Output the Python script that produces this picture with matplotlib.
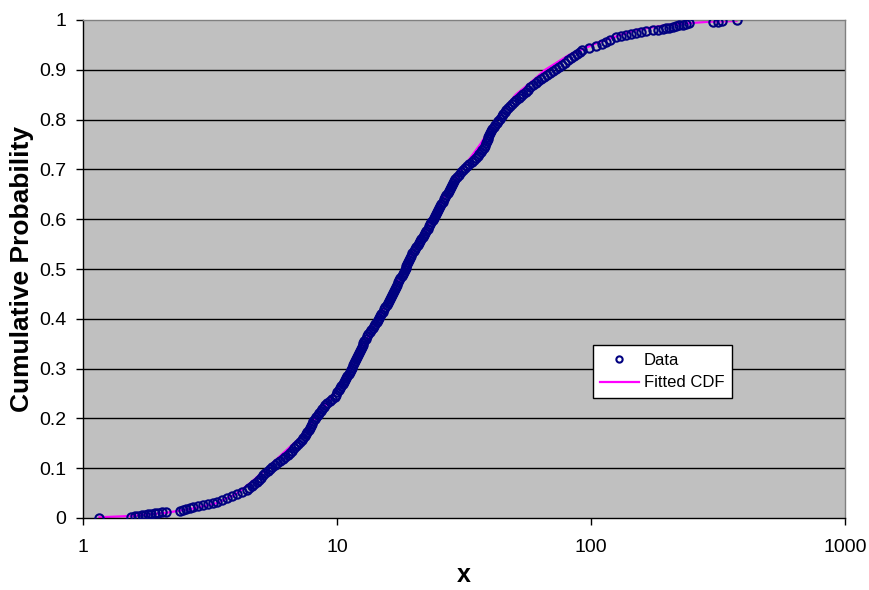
import matplotlib
matplotlib.use("Agg")
import matplotlib.pyplot as plt

# Data points (sorted sample value x, cumulative probability p)
data_x = [
    # lower tail
    1.16, 1.55, 1.60, 1.65, 1.70, 1.75, 1.80, 1.86, 1.92, 1.98, 2.05, 2.13,
    2.40, 2.47, 2.55, 2.63, 2.71, 2.83, 2.97, 3.10, 3.25,
    # body
    3.38, 3.53, 3.70,
    3.86, 4.04, 4.22, 4.41, 4.51, 4.61, 4.73, 4.84, 4.94, 5.04,
    5.13, 5.23, 5.33, 5.43, 5.56, 5.69, 5.83, 5.97, 6.11, 6.26,
    6.41, 6.55, 6.67, 6.78, 6.90, 7.02, 7.14, 7.26, 7.38, 7.49,
    7.57, 7.65, 7.74, 7.82, 7.91, 7.99, 8.07, 8.17, 8.28, 8.39,
    8.51, 8.63, 8.75, 8.87, 8.99, 9.14, 9.35, 9.57, 9.79, 9.91,
    10.03, 10.16, 10.28, 10.40, 10.52, 10.64, 10.76, 10.87, 10.99, 11.10,
    11.22, 11.35, 11.45, 11.56, 11.64, 11.75, 11.86, 11.97, 12.08, 12.19,
    12.27, 12.39, 12.50, 12.62, 12.71, 12.82, 12.97, 13.15, 13.30, 13.46,
    13.65, 13.80, 13.96, 14.13, 14.32, 14.49, 14.66, 14.82, 14.96, 15.14,
    15.31, 15.49, 15.67, 15.81, 16.00, 16.18, 16.33, 16.48, 16.63, 16.79,
    16.94, 17.10, 17.26, 17.42, 17.58, 17.74, 17.95, 18.11, 18.28, 18.45,
    18.62, 18.75, 18.92, 19.10, 19.23, 19.41, 19.59, 19.82, 20.04, 20.28,
    20.51, 20.75, 20.99, 21.23, 21.48, 21.73, 22.03, 22.23, 22.49, 22.75,
    23.01, 23.28, 23.55, 23.82, 24.04, 24.32, 24.55, 24.77, 25.00, 25.23,
    25.47, 25.76, 26.06, 26.36, 26.67, 26.92, 27.23, 27.54, 27.80, 28.12,
    28.38, 28.64, 28.97, 29.24, 29.58, 30.13, 30.69, 31.26, 31.84, 32.51,
    33.19, 33.96, 34.75, 35.40, 35.89, 36.31, 36.81, 37.24, 37.76, 38.19,
    38.73, 38.90, 39.17, 39.36, 39.63, 39.90, 40.36, 40.93, 41.40, 41.88,
    42.46, 43.15, 43.75, 44.46, 45.08, 45.81, 46.45, 47.21, 47.97, 48.98,
    49.89, 50.82, 52.00, 53.09, 54.20, 55.34, 56.49, 57.68, 59.02, 60.53,
    62.09, 63.68, 65.46, 67.14, 68.87, 70.79, 72.78, 74.82, 76.91, 79.07,
    81.28, 83.37, 85.51, 87.90, 90.16, 92.47, 98.2, 104.5, 110.2, 114.6,
    119.1,
    # upper tail
    125.6, 131.4, 137.4, 143.8, 150.5, 157.4, 164.7, 174.8, 183.0, 191.4,
    197.4, 203.4, 209.6, 216.1, 222.7, 229.4, 236.6, 243.8,
    301.1, 315.0, 327.8, 374.1,
]
data_p = [
    # lower tail
    0.001, 0.003, 0.004, 0.005, 0.006, 0.007, 0.008, 0.009, 0.010, 0.011, 0.012, 0.013,
    0.014, 0.016, 0.018, 0.020, 0.022, 0.024, 0.026, 0.028, 0.030,
    # body
    0.0313, 0.0354, 0.0396,
    0.0438, 0.0479, 0.0521, 0.0563, 0.0604, 0.0646, 0.0688, 0.0729, 0.0771, 0.0813,
    0.0854, 0.0896, 0.0938, 0.0979, 0.1021, 0.1063, 0.1104, 0.1146, 0.1188, 0.1229,
    0.1271, 0.1313, 0.1354, 0.1396, 0.1438, 0.1479, 0.1521, 0.1563, 0.1604, 0.1646,
    0.1688, 0.1729, 0.1771, 0.1813, 0.1854, 0.1896, 0.1938, 0.1979, 0.2021, 0.2063,
    0.2104, 0.2146, 0.2188, 0.2229, 0.2271, 0.2313, 0.2354, 0.2396, 0.2438, 0.2479,
    0.2521, 0.2563, 0.2604, 0.2646, 0.2688, 0.2729, 0.2771, 0.2813, 0.2854, 0.2896,
    0.2938, 0.2979, 0.3021, 0.3063, 0.3104, 0.3146, 0.3188, 0.3229, 0.3271, 0.3313,
    0.3354, 0.3396, 0.3438, 0.3479, 0.3521, 0.3563, 0.3604, 0.3646, 0.3688, 0.3729,
    0.3771, 0.3813, 0.3854, 0.3896, 0.3938, 0.3979, 0.4021, 0.4063, 0.4104, 0.4146,
    0.4188, 0.4229, 0.4271, 0.4313, 0.4354, 0.4396, 0.4438, 0.4479, 0.4521, 0.4563,
    0.4604, 0.4646, 0.4688, 0.4729, 0.4771, 0.4813, 0.4854, 0.4896, 0.4938, 0.4979,
    0.5021, 0.5063, 0.5104, 0.5146, 0.5188, 0.5229, 0.5271, 0.5313, 0.5354, 0.5396,
    0.5438, 0.5479, 0.5521, 0.5563, 0.5604, 0.5646, 0.5688, 0.5729, 0.5771, 0.5813,
    0.5854, 0.5896, 0.5938, 0.5979, 0.6021, 0.6063, 0.6104, 0.6146, 0.6188, 0.6229,
    0.6271, 0.6313, 0.6354, 0.6396, 0.6438, 0.6479, 0.6521, 0.6563, 0.6604, 0.6646,
    0.6688, 0.6729, 0.6771, 0.6813, 0.6854, 0.6896, 0.6938, 0.6979, 0.7021, 0.7063,
    0.7104, 0.7146, 0.7188, 0.7229, 0.7271, 0.7313, 0.7354, 0.7396, 0.7438, 0.7479,
    0.7521, 0.7563, 0.7604, 0.7646, 0.7688, 0.7729, 0.7771, 0.7813, 0.7854, 0.7896,
    0.7938, 0.7979, 0.8021, 0.8063, 0.8104, 0.8146, 0.8188, 0.8229, 0.8271, 0.8313,
    0.8354, 0.8396, 0.8438, 0.8479, 0.8521, 0.8563, 0.8604, 0.8646, 0.8688, 0.8729,
    0.8771, 0.8813, 0.8854, 0.8896, 0.8938, 0.8979, 0.9021, 0.9063, 0.9104, 0.9146,
    0.9188, 0.9229, 0.9271, 0.9313, 0.9354, 0.9396, 0.9438, 0.9479, 0.9521, 0.9563,
    0.9604,
    # upper tail
    0.966, 0.968, 0.970, 0.972, 0.974, 0.976, 0.977, 0.979, 0.980, 0.982,
    0.983, 0.984, 0.986, 0.987, 0.989, 0.990, 0.992, 0.993,
    0.995, 0.996, 0.997, 0.999,
]

# Fitted CDF curve
fit_x = [1.16, 1.54, 2.13, 2.7, 3.34, 4.0, 4.6, 5.3, 6.6, 7.13, 8.2, 9.8,
         11.3, 12.8, 14.5, 16.4, 18.4, 20.8, 23.6, 26.8, 31.0, 36.6, 42.2,
         50.5, 58, 66, 82, 108, 150, 200, 259, 292, 374]
fit_p = [0.0015, 0.004, 0.0106, 0.019, 0.0295, 0.048, 0.072, 0.1, 0.145, 0.16,
         0.2, 0.25, 0.3, 0.35, 0.4, 0.45, 0.5, 0.55, 0.6, 0.65, 0.7, 0.75,
         0.8, 0.85, 0.875, 0.9, 0.93, 0.956, 0.98, 0.99, 0.9946, 0.9966, 0.998]

y_ticks = [0, 0.1, 0.2, 0.3, 0.4, 0.5, 0.6, 0.7, 0.8, 0.9, 1]
y_tick_labels = ["0", "0.1", "0.2", "0.3", "0.4", "0.5", "0.6", "0.7", "0.8", "0.9", "1"]
x_ticks = [1, 10, 100, 1000]
x_tick_labels = ["1", "10", "100", "1000"]

plt.rcParams['font.family'] = ['Liberation Sans', 'DejaVu Sans']

fig = plt.figure(figsize=(8.69, 5.90), dpi=100)
ax = fig.add_axes([83 / 869, 1 - 518 / 590, 762 / 869, 498 / 590])
ax.set_facecolor('#C0C0C0')

ax.set_xscale('log')
ax.set_xlim(1, 1000)
ax.set_ylim(0, 1)

for yv in y_ticks[1:-1]:
    ax.axhline(yv, color='black', lw=1.0, zorder=1)

ax.plot(data_x, data_p, linestyle='none', marker='o', markersize=6,
        markerfacecolor='none', markeredgecolor='#000080',
        markeredgewidth=1.5, label='Data', zorder=3)
ax.plot(fit_x, fit_p, color='#FF00FF', lw=1.6, label='Fitted CDF', zorder=2)

ax.set_yticks(y_ticks)
ax.set_yticklabels(y_tick_labels)
ax.set_xticks(x_ticks)
ax.set_xticklabels(x_tick_labels)
ax.xaxis.set_minor_locator(matplotlib.ticker.NullLocator())
ax.tick_params(axis='both', which='major', labelsize=14, length=5,
               width=1, direction='out', color='black')
ax.tick_params(axis='x', pad=10)
ax.tick_params(axis='y', pad=7)

for s in ['top', 'right']:
    ax.spines[s].set_color('#808080')
    ax.spines[s].set_linewidth(1)
for s in ['left', 'bottom']:
    ax.spines[s].set_color('black')
    ax.spines[s].set_linewidth(1)

ax.set_ylabel('Cumulative Probability', fontsize=19, fontweight='bold', labelpad=4)
ax.set_xlabel('x', fontsize=18, fontweight='bold', labelpad=5)

leg = ax.legend(loc='lower left', bbox_to_anchor=(0.669, 0.241), fontsize=12,
                frameon=True, fancybox=False, edgecolor='black',
                facecolor='white', framealpha=1, borderpad=0.45,
                handlelength=2.3, handletextpad=0.3, labelspacing=0.45,
                borderaxespad=0, markerscale=0.75)
leg.get_frame().set_linewidth(1)

fig.savefig('out.png', dpi=100, facecolor='white')
